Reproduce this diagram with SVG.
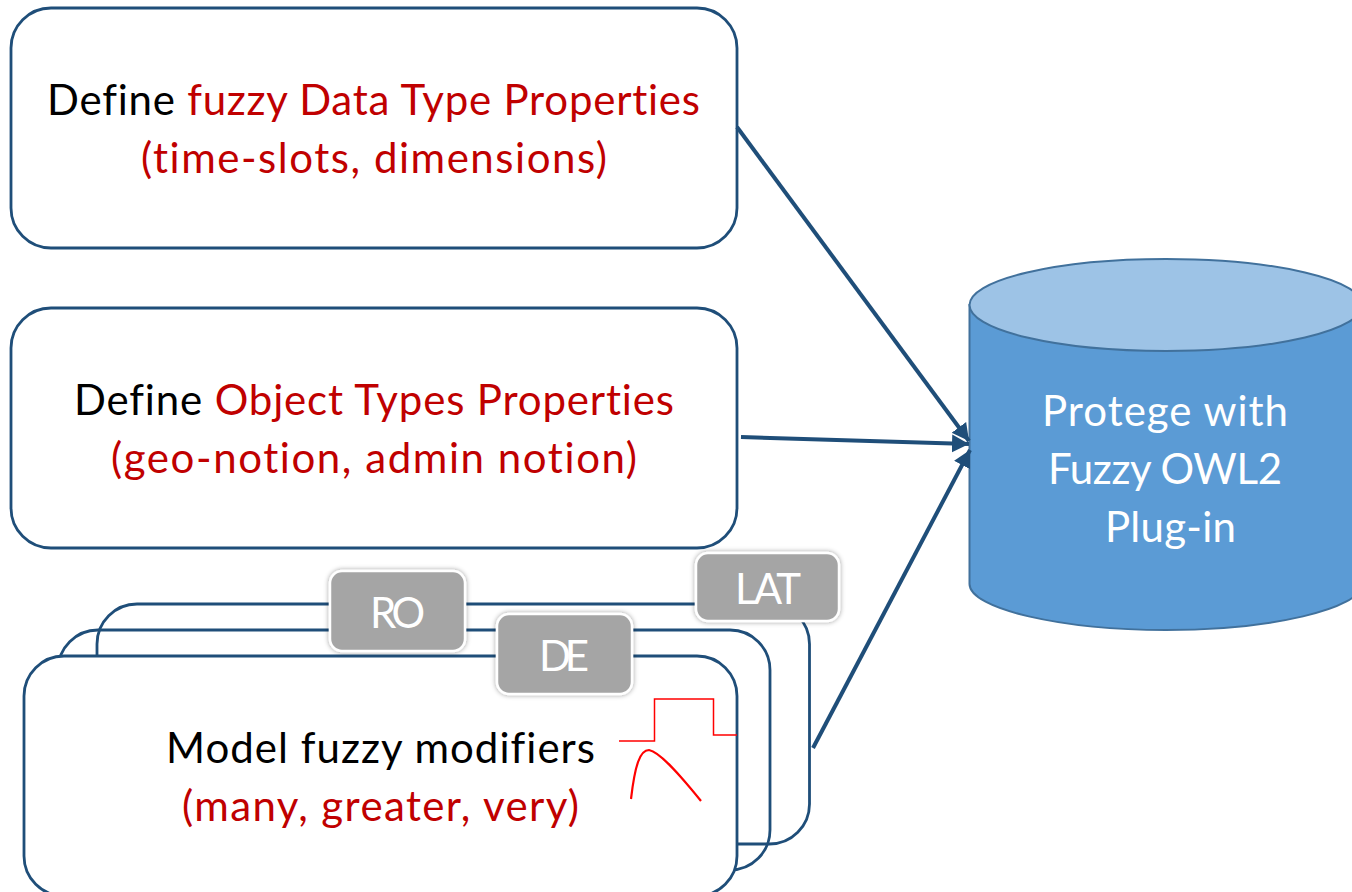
<svg xmlns="http://www.w3.org/2000/svg" width="1352" height="892" viewBox="0 0 1352 892">
<style>
text{font-family:"Lato","Open Sans",sans-serif;font-size:42px;text-anchor:middle;font-variant-ligatures:none}
.box{fill:#fff;stroke:#1f4e79;stroke-width:2.8}
.back{fill:none;stroke:#1f4e79;stroke-width:2.8}
.k{fill:#000}.r{fill:#c00000}
.tag{fill:#a5a5a5;stroke:#fff;stroke-width:2.5;filter:url(#sh)}
.w{fill:#fff}
.c{fill:none;stroke:#1f4e79;stroke-width:4}
.ry{fill:none;stroke:#ff0000}
</style>
<defs>
<filter id="sh" x="-10%" y="-10%" width="120%" height="120%"><feDropShadow dx="0" dy="0" stdDeviation="2.5" flood-color="#000" flood-opacity="0.4"/></filter>
<marker id="a" markerUnits="userSpaceOnUse" markerWidth="22" markerHeight="22" refX="17" refY="9" orient="auto"><path d="M0 0L17 9L0 18Z" fill="#1f4e79"/></marker>
</defs>
<rect width="1352" height="892" fill="#fff"/>
<g id="node-datatype"><rect class="box" x="11" y="8" width="726" height="240" rx="40"/>
<text x="373.500" y="115" textLength="653"><tspan class="k">Define </tspan><tspan class="r">fuzzy Data Type Properties</tspan></text>
<text x="374" y="173" class="r" textLength="466">(time-slots, dimensions)</text></g>
<g id="node-object"><rect class="box" x="11" y="308" width="726" height="240" rx="40"/>
<text x="374" y="415" textLength="600"><tspan class="k">Define </tspan><tspan class="r">Object Types Properties</tspan></text>
<text x="374" y="473" class="r" textLength="526">(geo-notion, admin notion)</text></g>
<g id="node-card-lat"><rect class="back" x="97" y="604" width="712.500" height="240" rx="40"/></g>
<g id="node-card-de"><rect class="back" x="58" y="630" width="712" height="240" rx="40"/></g>
<g id="node-card-ro"><rect class="box" x="24" y="656" width="713" height="240" rx="40"/>
<text x="380.500" y="763" class="k" textLength="429">Model fuzzy modifiers</text>
<text x="380.500" y="821" class="r" textLength="397">(many, greater, very)</text></g>
<g id="node-ro"><rect class="tag" x="330" y="571" width="135" height="80" rx="12"/><text x="397.500" y="628" class="w" textLength="55">RO</text></g>
<g id="node-de"><rect class="tag" x="497" y="614" width="135" height="80" rx="12"/><text x="564" y="671" class="w" textLength="50">DE</text></g>
<g id="node-lat"><rect class="tag" x="696" y="553" width="143" height="68" rx="12"/><text x="768" y="604" class="w" textLength="66">LAT</text></g>
<g id="node-curves"><path class="ry" stroke-width="1.5" d="M619 741H654.500V699H713.500V735H737"/>
<path class="ry" stroke-width="2.2" d="M631 799C635 765 640 750 649 750C660 752 680 775 701 801"/></g>
<g id="node-db"><path d="M969.500 305V584C969.500 609 1062 630 1166 630C1270 630 1362 609 1362 584V305Z" fill="#5b9bd5" stroke="#41719c" stroke-width="2"/>
<ellipse cx="1166" cy="305" rx="196.500" ry="46" fill="#9dc3e6" stroke="#41719c" stroke-width="2"/>
<text x="1165" y="426" class="w" textLength="246">Protege with</text>
<text x="1165" y="484" class="w" textLength="234">Fuzzy OWL2</text>
<text x="1170.500" y="542" class="w" textLength="131">Plug-in</text></g>
<g id="connectors">
<line class="c" x1="737" y1="127" x2="969" y2="441" marker-end="url(#a)"/>
<line class="c" x1="741" y1="437" x2="969" y2="444" marker-end="url(#a)"/>
<line class="c" x1="813" y1="748" x2="970" y2="450" marker-end="url(#a)"/>
</g>
</svg>
